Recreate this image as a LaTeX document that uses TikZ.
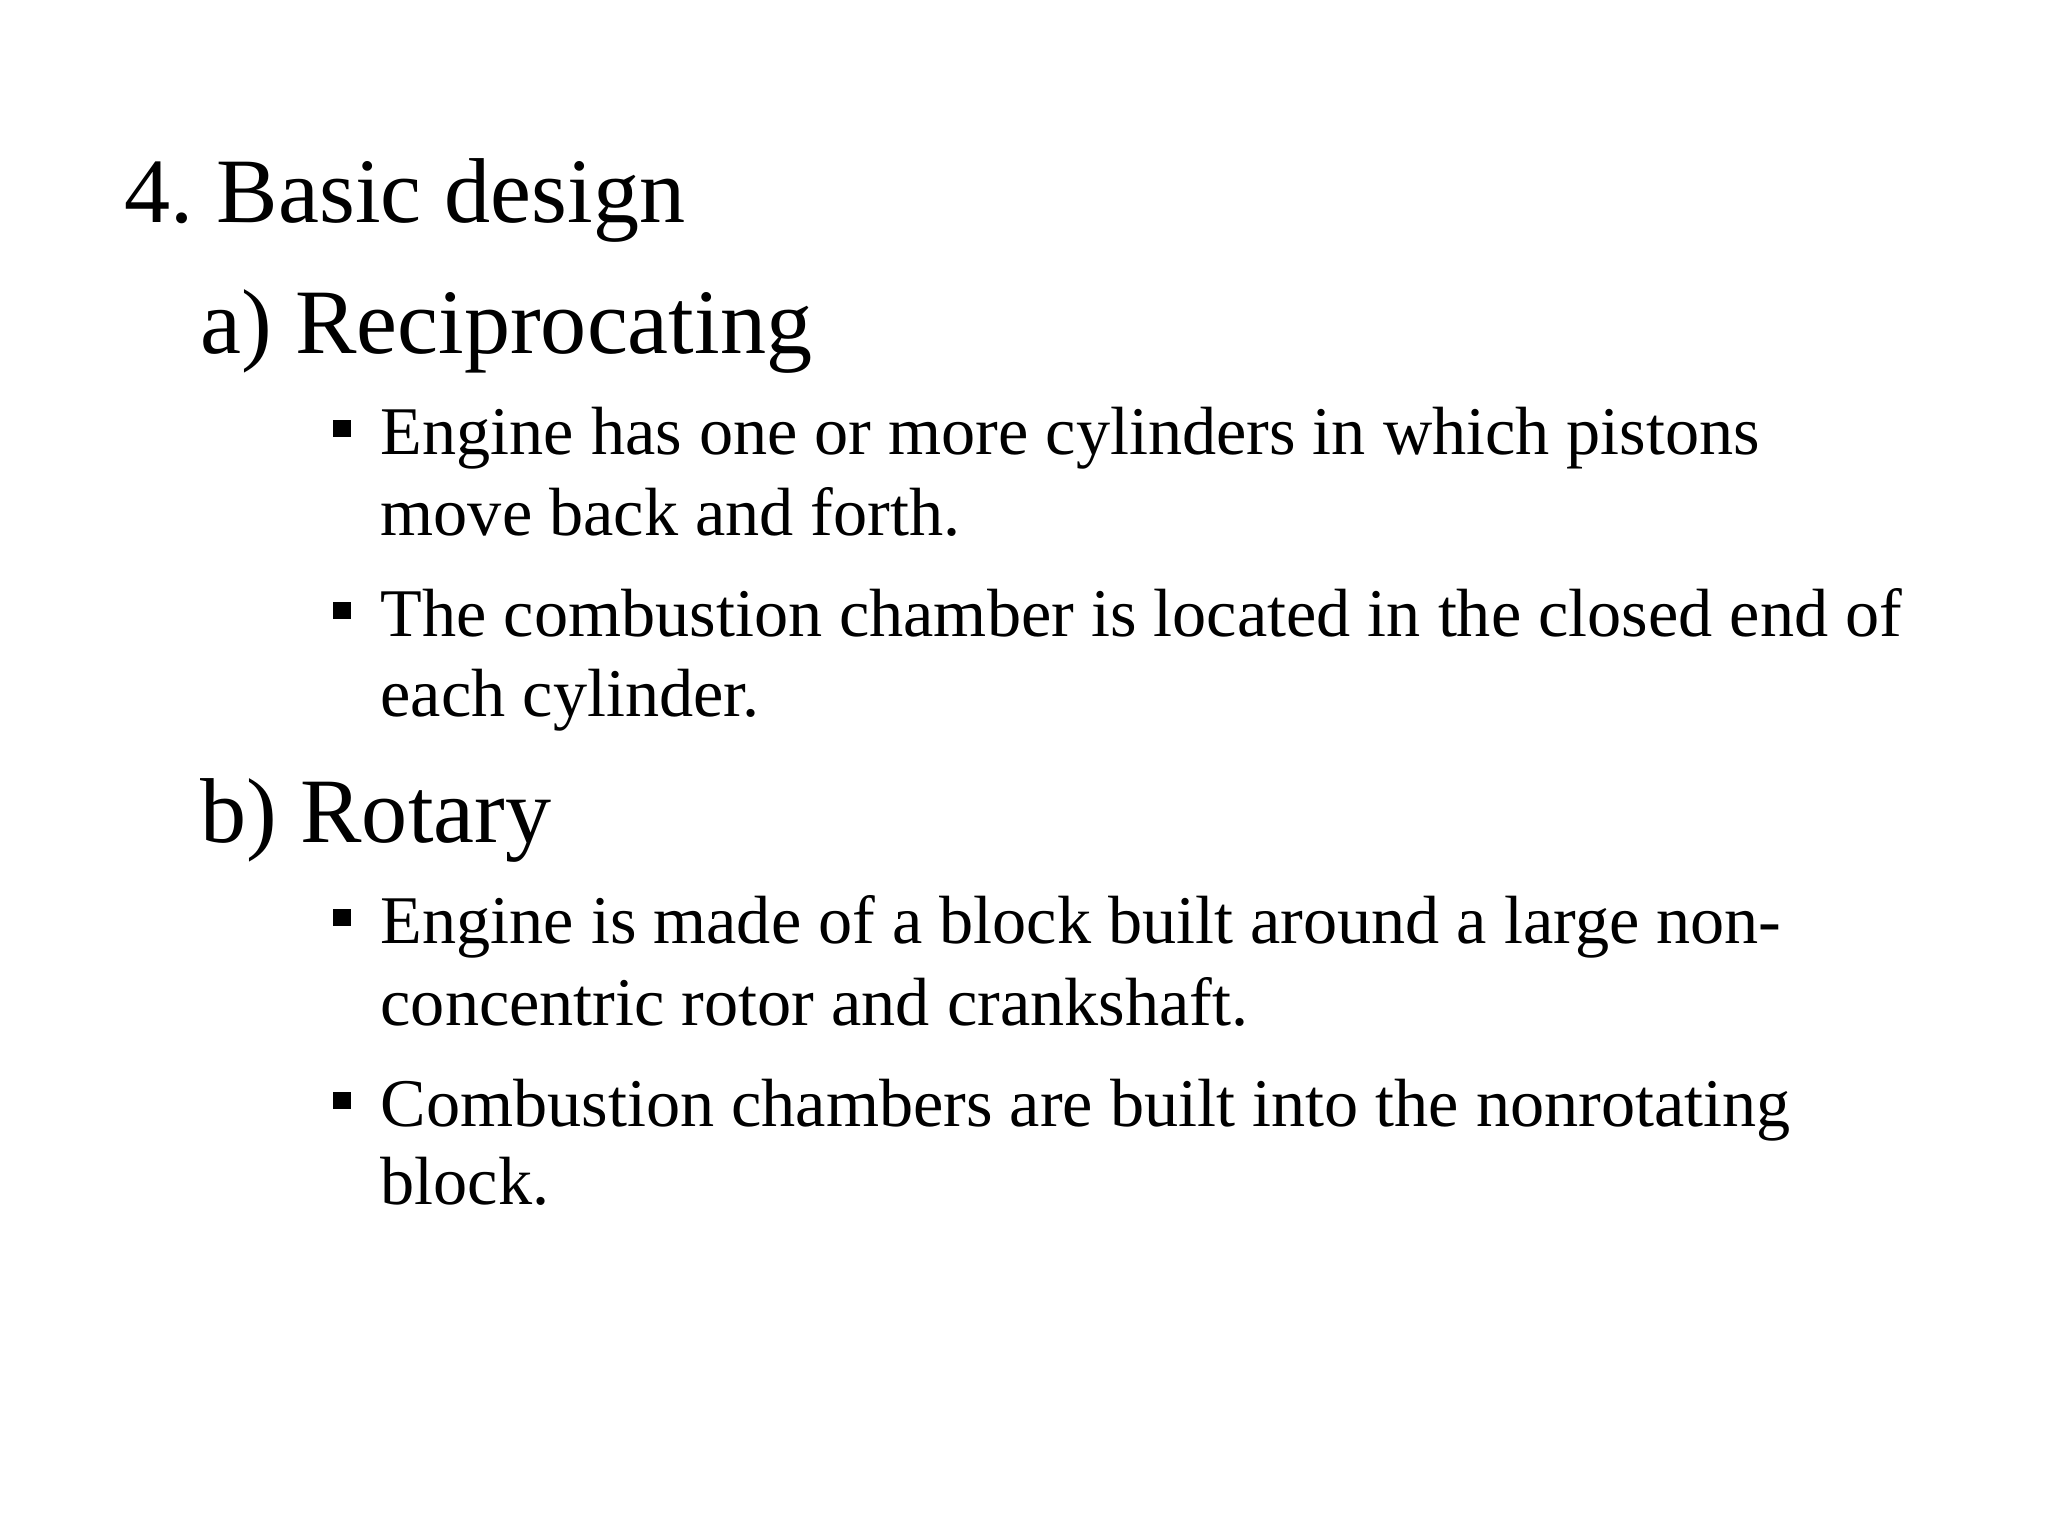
\documentclass[tikz,border=0pt]{standalone}
\usepackage{fontspec}
\setmainfont{Liberation Serif}
\frenchspacing
\begin{document}
\begin{tikzpicture}[x=0.01cm,y=-0.01cm,
  big/.style={anchor=base west,inner sep=0pt,font=\fontsize{26.2}{30}\selectfont},
  txt/.style={anchor=base west,inner sep=0pt,font=\fontsize{19.4}{23}\selectfont},
  sq/.style={fill=black,minimum size=0.17cm,inner sep=0pt}]
\useasboundingbox[fill=white] (0,0) rectangle (2048,1536);
\node[big] (t) at (124,222) {4. Basic design};
\node[big] (a) at (200,353) {a) Reciprocating};
\node[sq] (s1) at (342,428) {};
\node[txt] (a1) at (380,454) {Engine has one or more cylinders in which pistons};
\node[txt] (a1b) at (380,535) {move back and forth.};
\node[sq] (s2) at (342,610) {};
\node[txt] (a2) at (380,636) {The combustion chamber is located in the closed end of};
\node[txt] (a2b) at (380,716) {each cylinder.};
\node[big] (b) at (200,842) {b) Rotary};
\node[sq] (s3) at (342,917) {};
\node[txt] (b1) at (380,943) {Engine is made of a block built around a large non-};
\node[txt] (b1b) at (380,1025) {concentric rotor and crankshaft.};
\node[sq] (s4) at (342,1100) {};
\node[txt] (b2) at (380,1126) {Combustion chambers are built into the nonrotating};
\node[txt] (b2b) at (380,1204) {block.};
\end{tikzpicture}
\end{document}
